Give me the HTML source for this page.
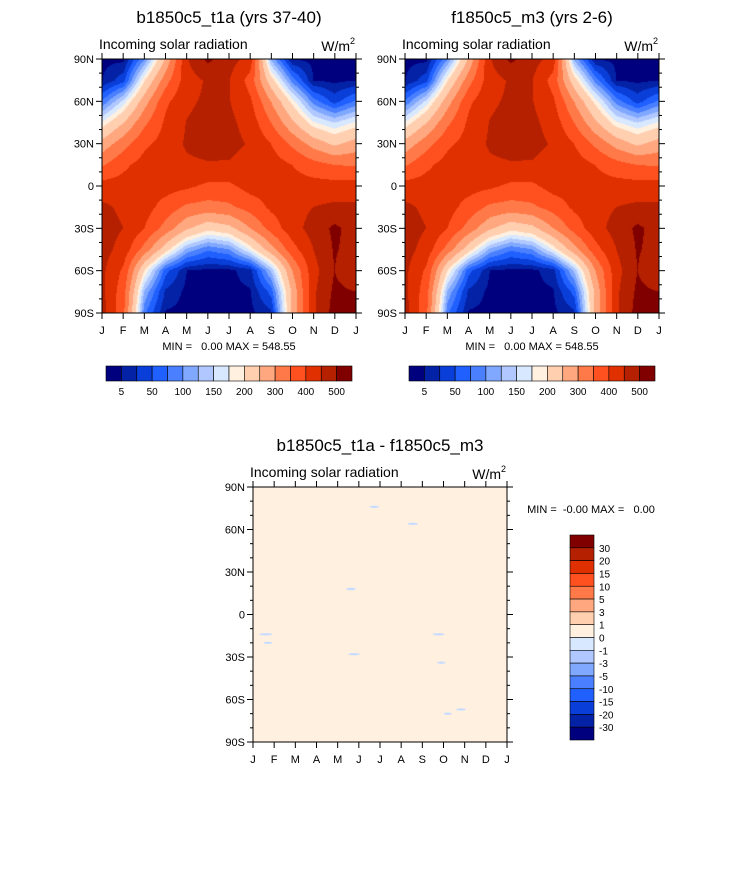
<!DOCTYPE html>
<html><head><meta charset="utf-8"><style>
body{margin:0;background:#fff;}
#wrap{position:relative;width:733px;height:869px;overflow:hidden;font-family:"Liberation Sans",sans-serif;}
canvas{position:absolute;}
svg{position:absolute;left:0;top:0;}
text{white-space:pre;}
</style></head><body>
<div id="wrap">
<canvas id="c1" width="254" height="254" style="left:102px;top:59px"></canvas>
<canvas id="c2" width="254" height="254" style="left:405px;top:59px"></canvas>
<svg id="s" width="733" height="869"></svg>
</div>
<script>
// latitudes of grid rows
const lats=[90,75,60,45,30,15,0,-15,-30,-45,-60,-75,-90];
const months=["J","F","M","A","M","J","J","A","S","O","N","D","J"];
// insolation values [month column][lat row] (W/m2), 13 columns J..J
const insol=[
[0,5,80,180,270,345,420,460,470,470,460,460,470],
[0,40,160,250,330,390,420,440,450,430,390,370,360],
[100,200,280,340,390,420,420,420,400,330,200,120,80],
[260,330,390,410,420,430,420,380,330,220,60,20,3],
[445,430,442,452,457,440,410,340,260,120,5,0,0],
[510,456,458,466,472,445,390,330,215,80,0,0,0],
[470,452,453,462,466,445,390,340,235,100,0,0,0],
[430,380,410,430,445,430,420,370,300,180,15,3,0],
[120,220,300,350,400,425,420,410,370,280,130,60,20],
[5,90,190,260,340,400,420,430,430,380,300,260,260],
[0,5,90,180,280,370,420,450,470,450,430,440,440],
[0,0,40,150,240,350,420,460,510,505,500,510,520],
[0,5,80,180,270,345,420,460,480,480,460,500,530]];
const levels=[5,25,50,75,100,125,150,175,200,250,300,350,400,450,500];
const levelLabels=["5","50","100","150","200","300","400","500"];
const colors=["#00007f","#0422a6","#0a3ed8","#2060ff","#4a80ff","#80a8ff","#b0c8ff","#d8e8ff","#fff0e0","#ffcfb0","#ffa880","#ff7a48","#ff5020","#e03000","#b42000","#800000"];
const diffLabels=["30","20","15","10","5","3","1","0","-1","-3","-5","-10","-15","-20","-30"];
// small negative slivers in the difference plot: [month position, latitude, length in months]
const slivers=[[5.5,76,0.45],[7.3,64,0.5],[4.4,18,0.45],[0.3,-14,0.6],[0.5,-20,0.4],[4.5,-28,0.55],[8.5,-14,0.55],[8.7,-34,0.4],[9.0,-70,0.4],[9.6,-67,0.45]];

function val(mx,lat){
  const fi=(90-lat)/15, j=Math.min(11.999,Math.max(0,mx)), i=Math.min(11.999,Math.max(0,fi));
  const j0=Math.floor(j),i0=Math.floor(i),tj=j-j0,ti=i-i0;
  const a=insol[j0][i0],b=insol[j0+1][i0],c=insol[j0][i0+1],d=insol[j0+1][i0+1];
  return (a*(1-tj)+b*tj)*(1-ti)+(c*(1-tj)+d*tj)*ti;
}
function colIdx(v){let k=0;while(k<levels.length&&v>=levels[k])k++;return k;}
function hex(h){return[parseInt(h.substr(1,2),16),parseInt(h.substr(3,2),16),parseInt(h.substr(5,2),16)];}
const rgb=colors.map(hex);
['c1','c2'].forEach(id=>{
  const cv=document.getElementById(id),ctx=cv.getContext('2d'),W=cv.width,H=cv.height;
  const im=ctx.createImageData(W,H);
  for(let y=0;y<H;y++)for(let x=0;x<W;x++){
    const v=val(x/(W-1)*12,90-y/(H-1)*180);const c=rgb[colIdx(v)];const p=(y*W+x)*4;
    im.data[p]=c[0];im.data[p+1]=c[1];im.data[p+2]=c[2];im.data[p+3]=255;}
  ctx.putImageData(im,0,0);
});
const S=document.getElementById('s');const NS="http://www.w3.org/2000/svg";
function el(t,a,txt){const e=document.createElementNS(NS,t);for(const k in a)e.setAttribute(k,a[k]);if(txt!==undefined)e.textContent=txt;S.appendChild(e);return e;}
function text(x,y,s,size,anchor,name){const e=el('text',{x:x,y:y,'font-size':size,'text-anchor':anchor||'start','font-family':'Liberation Sans, sans-serif'},s);

return e;}
function axes(L,T,W,H,title,pfx){
  text(L+W/2,T-36,title,17,'middle',pfx+'-title');
  text(L-3,T-10,"Incoming solar radiation",14,'start',pfx+'-subtitle');
  text(L+W-6,T-8,"W/m",14,'end',pfx+'-units');
  el('text',{x:L+W-6,y:T-15,'font-size':9,'text-anchor':'start','font-family':'Liberation Sans, sans-serif'},"2");
  const r=el('rect',{x:L,y:T,width:W,height:H,fill:'none',stroke:'#000','stroke-width':1});
  
  
  const ylab=["90N","60N","30N","0","30S","60S","90S"];
  for(let k=0;k<=18;k++){const y=T+H*k/18,maj=k%3==0,len=maj?6:3;
    el('line',{x1:L-len,y1:y,x2:L,y2:y,stroke:'#000'});el('line',{x1:L+W,y1:y,x2:L+W+len,y2:y,stroke:'#000'});
    if(maj)text(L-8,y+4,ylab[k/3],11,'end',pfx+'-y-tick-label');}
  for(let k=0;k<=12;k++){const x=L+W*k/12;
    el('line',{x1:x,y1:T+H,x2:x,y2:T+H+6,stroke:'#000'});el('line',{x1:x,y1:T-6,x2:x,y2:T,stroke:'#000'});
    text(x,T+H+21,months[k],11,'middle',pfx+'-x-tick-label');}
}
function hbar(L,T,W,H,pfx){
  const bw=W/colors.length;
  colors.forEach((c,k)=>{const r=el('rect',{x:L+k*bw,y:T,width:bw,height:H,fill:c,stroke:'#000','stroke-width':0.6});
  
  });
  levelLabels.forEach((s,k)=>text(L+bw*(1+2*k),T+H+14,s,10,'middle',pfx+'-colorbar-label'));
}
axes(102,59,254,254,"b1850c5_t1a (yrs 37-40)","left-plot");
text(229,350,"MIN =   0.00 MAX = 548.55",11,'middle','left-min-max');
hbar(106,366,246,15,'left');
axes(405,59,254,254,"f1850c5_m3 (yrs 2-6)","right-plot");
text(532,350,"MIN =   0.00 MAX = 548.55",11,'middle','right-min-max');
hbar(409,366,246,15,'right');
// difference plot
const dL=253,dT=487,dW=254,dH=255;
const bg=el('rect',{x:dL,y:dT,width:dW,height:dH,fill:'#fff0e0'});


slivers.forEach(s=>{const e=el('ellipse',{cx:dL+s[0]/12*dW+s[2]/24*dW,cy:dT+(90-s[1])/180*dH,rx:s[2]/24*dW,ry:1.2,fill:'#c8dcff'});

});
axes(dL,dT,dW,dH,"b1850c5_t1a - f1850c5_m3","diff-plot");
text(591,513,"MIN =  -0.00 MAX =   0.00",11,'middle','diff-min-max');
const vc=colors.slice().reverse();const bh=205/16;
vc.forEach((c,k)=>{const r=el('rect',{x:570,y:535+k*bh,width:24,height:bh,fill:c,stroke:'#000','stroke-width':0.6});

});
diffLabels.forEach((s,k)=>text(599,535+bh*(k+1)+4,s,10,'start','diff-colorbar-label'));
</script>
</body></html>
